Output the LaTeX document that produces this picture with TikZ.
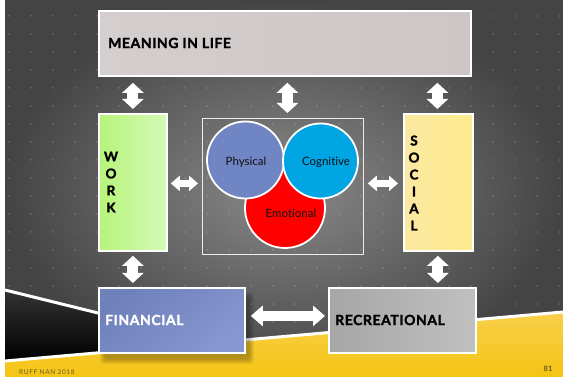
\documentclass[tikz,border=0pt]{standalone}
\usepackage{fontspec}
\setmainfont{Lato}[Ligatures=NoCommon]
\newfontfamily\lblfont{Lato}[LetterSpace=4, BoldFeatures={FakeBold=1.6}]
\newfontfamily\vfont{Lato}[BoldFeatures={FakeBold=1.6}]
\newfontfamily\footfont{Lato}[LetterSpace=10]
\usetikzlibrary{arrows.meta,calc}
\definecolor{bgin}{HTML}{8A8A8A}
\definecolor{bgout}{HTML}{444444}
\definecolor{ylw}{HTML}{F5C414}
\definecolor{ylwlt}{HTML}{F8D04A}
\definecolor{footc}{HTML}{6A5A22}
\definecolor{meanL}{HTML}{D4CECE}
\definecolor{meanM}{HTML}{C4B9B9}
\definecolor{meanR}{HTML}{CEC6C6}
\definecolor{workL}{HTML}{B6F47A}
\definecolor{workR}{HTML}{D6F9B6}
\definecolor{socL}{HTML}{FCE9A2}
\definecolor{socM}{HTML}{FCE46C}
\definecolor{socR}{HTML}{FDEB8E}
\definecolor{finT}{HTML}{6E81BB}
\definecolor{finM}{HTML}{AAB5E0}
\definecolor{finB}{HTML}{8797CF}
\definecolor{recL}{HTML}{A6A6A6}
\definecolor{recR}{HTML}{C0C0C0}
\definecolor{phys}{HTML}{7085C4}
\definecolor{cogn}{HTML}{00A5E3}
\definecolor{emot}{HTML}{FF0000}
\definecolor{txtd}{HTML}{111111}
\tikzset{
  boxbase/.style={draw=white, line width=1.8pt, rectangle, anchor=north west, inner sep=0pt},
  lbl/.style={font=\lblfont\fontsize{14}{16}\selectfont\bfseries, inner sep=0pt, anchor=west},
  circ/.style={circle, draw=white, line width=1.8pt, inner sep=0pt},
  ctxt/.style={font=\fontsize{11.5}{13}\selectfont, text=txtd},
  vtxt/.style={align=center, font=\vfont\fontsize{13.5}{17}\selectfont\bfseries, text=black},
  varr/.style={white, line width=11pt, {Triangle[length=10pt,width=21pt]}-{Triangle[length=10pt,width=21pt]}},
  harr/.style={white, line width=6.5pt, {Triangle[length=9pt,width=15pt]}-{Triangle[length=9pt,width=15pt]}},
  barr/.style={white, line width=10pt, {Triangle[length=12pt,width=20pt]}-{Triangle[length=12pt,width=20pt]}},
  dotc/.style={fill=white, opacity=0.17}
}
\begin{document}
\begin{tikzpicture}[x=1pt,y=-1pt]
\useasboundingbox (0,0) rectangle (563,377);
% background
\fill[white] (0,0) rectangle (5,377);
\shade[inner color=bgin, outer color=bgout] (5,0) rectangle (563,377);
\foreach \i in {0,...,25}{
  \foreach \j in {0,...,17}{
    \fill[dotc] ({9+22*\i},{16+18*\j}) circle (1pt);
  }
}
% bottom band
\shade[top color=black!80, bottom color=black] (5,290) -- (217,342.4) -- (5,361) -- cycle;
\shade[top color=ylwlt, bottom color=ylw] (5,361) -- (563,312) -- (563,377) -- (5,377) -- cycle;
\draw[white, line width=3pt] (5,290) -- (217,342.4);
\draw[white, line width=3pt] (5,361) -- (563,312);
% financial shadow (soft)
\foreach \k in {0,...,5}{
  \fill[black, opacity=0.05, rounded corners=3pt] ({100+\k},{292+\k}) rectangle ({254-\k},{364-\k});
}
% boxes
\node[boxbase, minimum width=372pt, minimum height=65pt, left color=meanL, middle color=meanM, right color=meanR] (meaning) at (98,10) {};
\node[lbl, text=black] (meaningtxt) at (108,43) {MEANING IN LIFE};
\node[boxbase, minimum width=68pt, minimum height=137pt, left color=workL, right color=workR] (work) at (98,113) {};
\node[vtxt] (worktxt) at (111,182) {W\\O\\R\\K};
\node[boxbase, minimum width=69pt, minimum height=137pt, left color=socL, middle color=socM, right color=socR] (social) at (403,113) {};
\node[vtxt] (socialtxt) at (414,183) {S\\O\\C\\I\\A\\L};
\node[rectangle, draw=white!85!gray, line width=0.8pt, anchor=north west, minimum width=161pt, minimum height=136pt, inner sep=0pt] (cbox) at (202,118) {};
\node[boxbase, minimum width=146pt, minimum height=65pt, top color=finT, middle color=finM, bottom color=finB, shading angle=40] (financial) at (98,287) {};
\node[lbl, text=white] (fintxt) at (105,320) {FINANCIAL};
\node[boxbase, minimum width=147pt, minimum height=65pt, left color=recL, right color=recR] (recreational) at (328,287) {};
\node[lbl, text=black] (rectxt) at (335,320) {RECREATIONAL};
% circles
\node[circ, fill=emot, minimum size=80pt] (emotional) at (285,208) {};
\node[circ, fill=phys, minimum size=77pt] (physical) at (245.5,160) {};
\node[circ, fill=cogn, minimum size=75pt] (cognitive) at (320.5,161) {};
\node[ctxt] (phystxt) at (246,162) {Physical};
\node[ctxt] (cogtxt) at (326,162) {Cognitive};
\node[ctxt] (emotxt) at (291,213) {Emotional};
% arrows
\draw[varr, shorten <=6pt, shorten >=4pt] (meaning.south -| work.north) -- (work.north);
\draw[varr, shorten <=6pt, shorten >=5pt] ([xshift=4.5pt]cbox.north |- meaning.south) -- ([xshift=4.5pt]cbox.north);
\draw[varr, shorten <=6pt, shorten >=4pt] ([xshift=-1pt]meaning.south -| social.north) -- ([xshift=-1pt]social.north);
\draw[varr, shorten <=4pt, shorten >=4pt] (work.south) -- (work.south |- financial.north);
\draw[varr, shorten <=4pt, shorten >=4pt] ([xshift=-0.5pt]social.south) -- ([xshift=-0.5pt]social.south |- recreational.north);
\draw[harr, shorten <=3pt, shorten >=4pt] ([yshift=-1pt]work.east) -- ([yshift=-1pt]work.east -| cbox.west);
\draw[harr, shorten <=4pt, shorten >=5pt] ([yshift=-1pt]work.east -| cbox.east) -- ([yshift=-1pt]work.east -| social.west);
\draw[barr, shorten <=5pt, shorten >=3pt] ([yshift=4.5pt]financial.east) -- ([yshift=4.5pt]financial.east -| recreational.west);
% footer
\node[anchor=west, inner sep=0pt, font=\footfont\fontsize{6.5}{8}\selectfont, text=footc] (footer) at (19,372) {RUFF NAN 2018};
\node[font=\fontsize{7.5}{8}\selectfont\bfseries, text=footc] (pagenum) at (548,369) {81};
\end{tikzpicture}
\end{document}
